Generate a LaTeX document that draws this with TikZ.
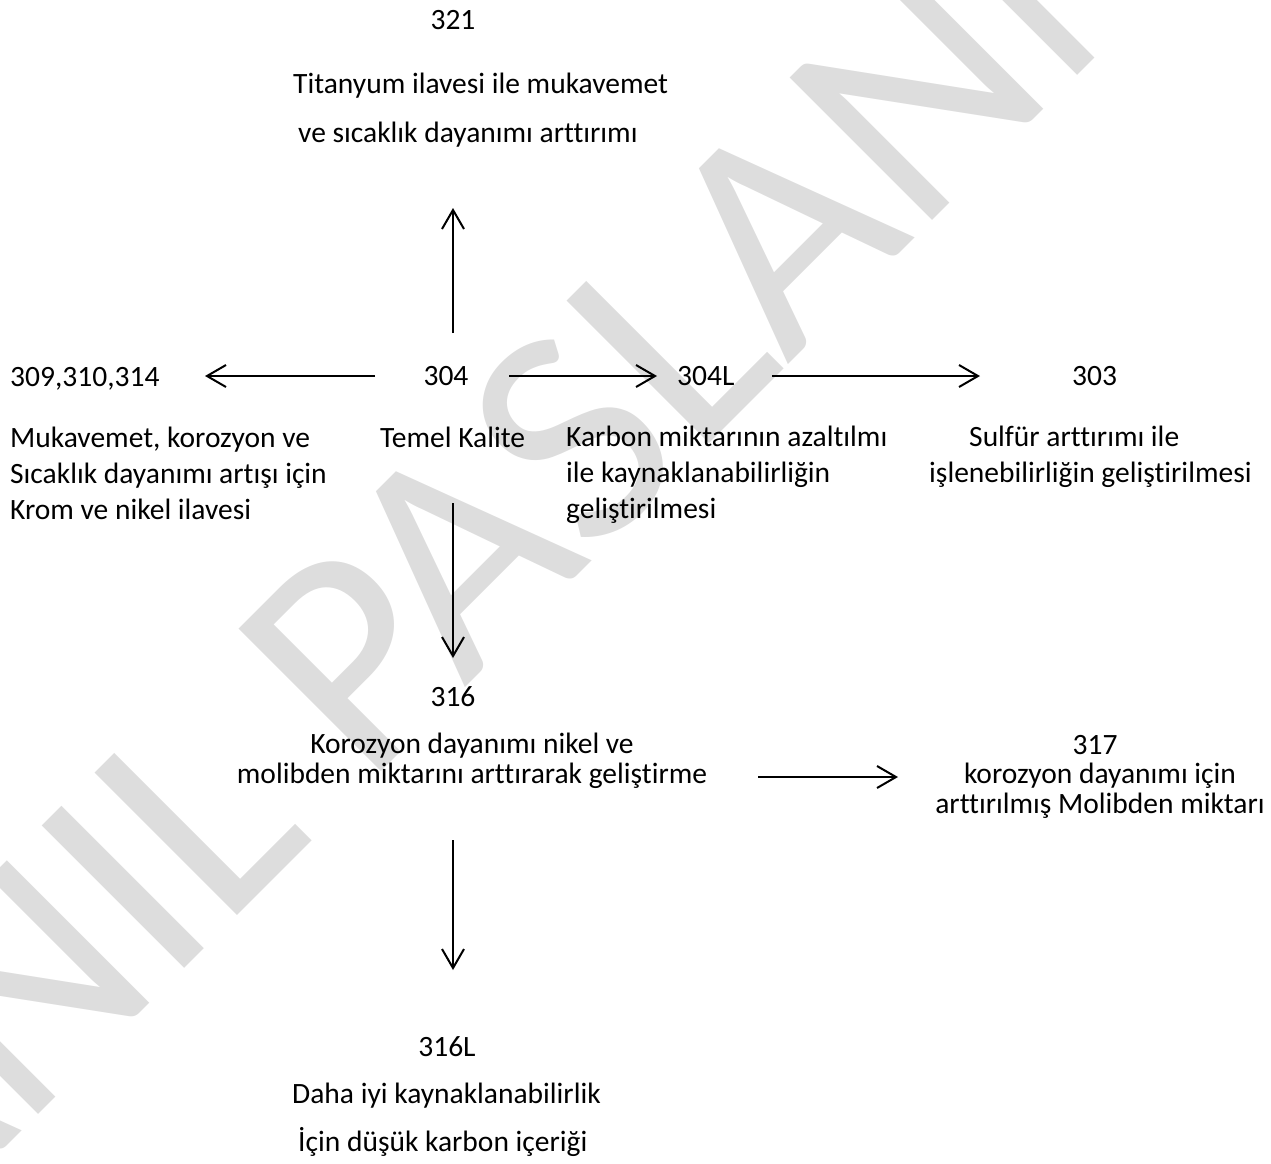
\documentclass[tikz,border=0pt]{standalone}
\usepackage{fontspec}
\setmainfont{Carlito}[Ligatures=NoCommon]
\usetikzlibrary{arrows.meta}
\definecolor{wm}{RGB}{221,221,221}
\tikzset{
  lbl/.style={inner sep=0pt, font=\fontsize{29.5}{36}\selectfont},
  lblw/.style={lbl, anchor=west, align=left},
  lblc/.style={lbl, anchor=center, align=center},
  arr/.style={line width=2pt, -{Straight Barb[length=19pt,width=22pt,line width=2pt]}},
}
\begin{document}
\begin{tikzpicture}[x=1pt,y=-1pt]
\useasboundingbox (0,0) rectangle (1271,1163);
\begin{scope}
\clip (0,0) rectangle (1271,1163);
\node[inner sep=0pt, anchor=base west, rotate=45, text=wm,
      font=\fontsize{314}{314}\selectfont] (wmark) at (-106,1259) {ANIL PASLANMAZ};
\end{scope}

% nodes
\node[lblc] (n321) at (453,20) {321};
\node[lblw, font=\fontsize{29.5}{49}\selectfont] (nTi) at (293,110) {Titanyum ilavesi ile mukavemet\\\hspace*{5pt}ve sıcaklık dayanımı arttırımı};

\node[lblw] (n309) at (10,379) {309,310,314};
\node[lblc] (n304) at (446,376) {304};
\node[lblw] (n304L) at (677,376) {304L};
\node[lblw] (n303) at (1072,376) {303};

\node[lblw] (nMuk) at (10,473) {Mukavemet, korozyon ve\\Sıcaklık dayanımı artışı için\\Krom ve nikel ilavesi};
\node[lblw] (nTemel) at (380,437) {Temel Kalite};
\node[lblw] (nKarb) at (566,475) {Karbon miktarının azaltılmı\\ile kaynaklanabilirliğin\\geliştirilmesi};
\node[lblw] (nSulf) at (929,457) {\hspace*{40pt}Sulfür arttırımı ile\\işlenebilirliğin geliştirilmesi};

\node[lblc] (n316) at (453,697) {316};
\node[lblc, font=\fontsize{29.5}{30}\selectfont] (nKor) at (472,761) {Korozyon dayanımı nikel ve\\molibden miktarını arttırarak geliştirme};

\node[lblc] (n317) at (1095,745) {317};
\node[lblc, font=\fontsize{29.5}{30}\selectfont] (nKor2) at (1100,791) {korozyon dayanımı için\\arttırılmış Molibden miktarı};

\node[lblc] (n316L) at (447,1047) {316L};
\node[lblw, font=\fontsize{29.5}{48}\selectfont] (nDaha) at (292,1120) {Daha iyi kaynaklanabilirlik\\\hspace*{6pt}İçin düşük karbon içeriği};

% arrow end points
\coordinate (upS) at (453,333);   \coordinate (upE) at (453,208);
\coordinate (lfS) at (375,376);   \coordinate (lfE) at (205,376);
\coordinate (r1S) at (509,376);   \coordinate (r1E) at (657,376);
\coordinate (r2S) at (772,376);   \coordinate (r2E) at (980,376);
\coordinate (dnS) at (453,503);   \coordinate (dnE) at (453,658);
\coordinate (r3S) at (758,777);   \coordinate (r3E) at (898,777);
\coordinate (d2S) at (453,840);   \coordinate (d2E) at (453,970);

\draw[arr] (upS) -- (upE);
\draw[arr] (lfS) -- (lfE);
\draw[arr] (r1S) -- (r1E);
\draw[arr] (r2S) -- (r2E);
\draw[arr] (dnS) -- (dnE);
\draw[arr] (r3S) -- (r3E);
\draw[arr] (d2S) -- (d2E);
\end{tikzpicture}
\end{document}
